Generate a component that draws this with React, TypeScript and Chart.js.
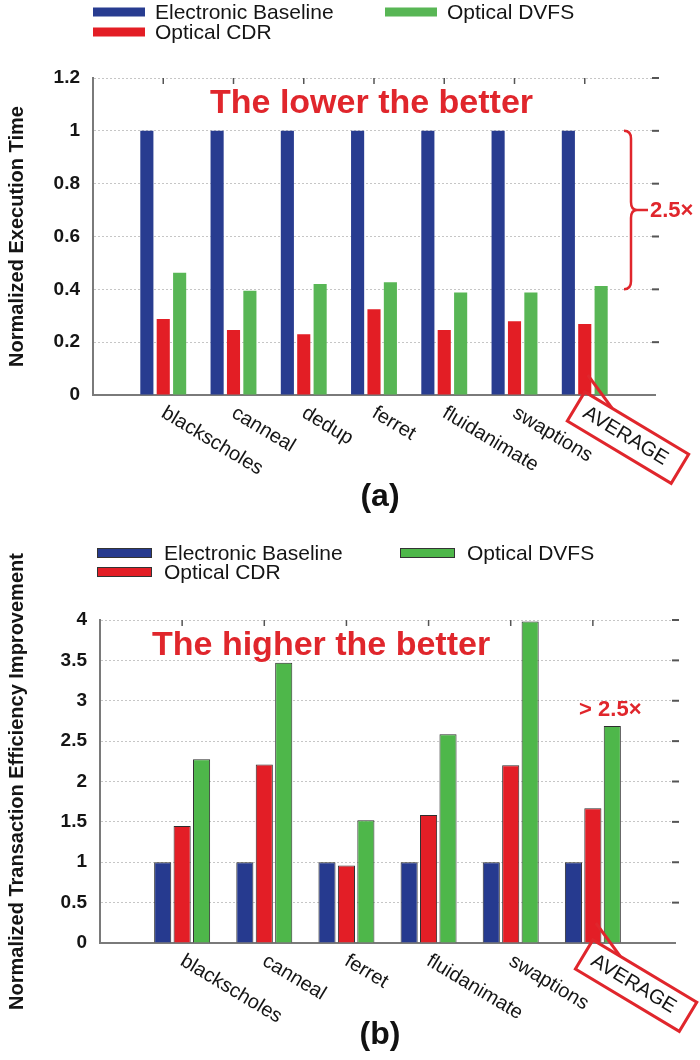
import React, { useEffect, useRef } from 'react';
import { Chart, registerables } from 'chart.js';

Chart.register(...registerables);

const FONT = '"Liberation Sans", Arial, Helvetica, sans-serif';
const RED_NOTE = '#e0262c';

// ---------- data ----------
const SERIES_NAMES = ['Electronic Baseline', 'Optical CDR', 'Optical DVFS'];
const COLORS_A = ['#283c90', '#e31e25', '#58b655'];
const COLORS_B = ['#263a8f', '#e31e26', '#4eb74a'];

const CATS_A = ['blackscholes', 'canneal', 'dedup', 'ferret', 'fluidanimate', 'swaptions', 'AVERAGE'];
const BASE_A = [1, 1, 1, 1, 1, 1, 1];
const CDR_A = [0.288, 0.246, 0.23, 0.325, 0.246, 0.279, 0.269];
const DVFS_A = [0.463, 0.395, 0.42, 0.427, 0.388, 0.388, 0.413];
const Y_A = { min: 0, max: 1.2, step: 0.2 };

const CATS_B = ['blackscholes', 'canneal', 'ferret', 'fluidanimate', 'swaptions', 'AVERAGE'];
const BASE_B = [1, 1, 1, 1, 1, 1];
const CDR_B = [1.45, 2.21, 0.96, 1.585, 2.2, 1.668];
const DVFS_B = [2.275, 3.47, 1.52, 2.585, 3.98, 2.687];
const Y_B = { min: 0, max: 4, step: 0.5 };

const W = 700;
const H = 530;
const ANGLE = (31 * Math.PI) / 180;

type Cfg = {
  cats: string[];
  series: number[][];
  colors: string[];
  y: { min: number; max: number; step: number };
  yTitle: string;
  area: { left: number; right: number; top: number; bottom: number };
  catPct: number;
  barPct: number;
  outline: boolean;
  legend: { idx: number; x: number; y: number }[];
  swatchW: number;
  legendDx: number;
  headline: { text: string; x: number; y: number };
  panel: { text: string; y: number };
  kind: 'brace' | 'above';
};

function rot(ax: number, ay: number, u: number, v: number) {
  return {
    x: ax + u * Math.cos(ANGLE) - v * Math.sin(ANGLE),
    y: ay + u * Math.sin(ANGLE) + v * Math.cos(ANGLE),
  };
}

function makeDecor(cfg: Cfg) {
  return {
    id: 'decor',
    afterDraw(chart: any) {
      const ctx: CanvasRenderingContext2D = chart.ctx;
      const xs = chart.scales.x;
      const ys = chart.scales.y;
      const area = chart.chartArea;
      ctx.save();

      // legend
      cfg.legend.forEach(({ idx, x, y }) => {
        ctx.fillStyle = cfg.colors[idx];
        ctx.fillRect(x, y - 4.5, cfg.swatchW, 9);
        if (cfg.outline) {
          ctx.strokeStyle = '#333';
          ctx.lineWidth = 1;
          ctx.strokeRect(x + 0.5, y - 4.5, cfg.swatchW - 1, 9);
        }
        ctx.fillStyle = '#151515';
        ctx.font = `21px ${FONT}`;
        ctx.textAlign = 'left';
        ctx.textBaseline = 'middle';
        ctx.fillText(SERIES_NAMES[idx], x + cfg.legendDx, y + 1);
      });

      // top tick marks at category centers
      ctx.strokeStyle = '#555';
      ctx.lineWidth = 1.5;
      cfg.cats.forEach((_, i) => {
        const px = xs.getPixelForValue(i + 1);
        ctx.beginPath();
        ctx.moveTo(px, area.top);
        ctx.lineTo(px, area.top + 6);
        ctx.stroke();
      });
      // right tick marks
      ctx.lineWidth = 2;
      ys.ticks.forEach((t: any) => {
        if (t.value === cfg.y.min) return;
        const py = ys.getPixelForValue(t.value);
        ctx.beginPath();
        ctx.moveTo(area.right - 3, py);
        ctx.lineTo(area.right + 4, py);
        ctx.stroke();
      });

      // rotated category labels
      const n = cfg.cats.length;
      let boxAnchor = { x: 0, y: 0 };
      cfg.cats.forEach((c, i) => {
        const px = xs.getPixelForValue(i + 1);
        const ax = px + 5;
        const ay = area.bottom + 8;
        ctx.save();
        ctx.translate(ax, ay);
        ctx.rotate(ANGLE);
        ctx.font = `20px ${FONT}`;
        ctx.fillStyle = '#151515';
        ctx.textAlign = 'left';
        ctx.textBaseline = 'top';
        ctx.fillText(c, 0, 0);
        if (i === n - 1) {
          const w = ctx.measureText(c).width;
          ctx.strokeStyle = RED_NOTE;
          ctx.lineWidth = 3;
          ctx.strokeRect(-10, -7, w + 26, 34);
          boxAnchor = { x: ax, y: ay };
        }
        ctx.restore();
      });

      // connector from CDR average bar to box
      const cdrMeta = chart.getDatasetMeta(1);
      const bar = cdrMeta.data[n];
      const end = rot(boxAnchor.x, boxAnchor.y, 22, -7);
      ctx.strokeStyle = RED_NOTE;
      ctx.lineWidth = 3;
      ctx.beginPath();
      ctx.moveTo(bar.x + 3, area.bottom - 20);
      ctx.lineTo(end.x, end.y);
      ctx.stroke();

      // headline
      ctx.fillStyle = RED_NOTE;
      ctx.font = `bold 34px ${FONT}`;
      ctx.textAlign = 'left';
      ctx.textBaseline = 'alphabetic';
      ctx.fillText(cfg.headline.text, cfg.headline.x, cfg.headline.y);

      if (cfg.kind === 'brace') {
        const y1 = ys.getPixelForValue(1);
        const y2 = ys.getPixelForValue(0.4);
        const ym = (y1 + y2) / 2;
        const bx = area.right - 24;
        const r = 8;
        ctx.strokeStyle = RED_NOTE;
        ctx.lineWidth = 2.5;
        ctx.beginPath();
        ctx.moveTo(bx - 7, y1);
        ctx.quadraticCurveTo(bx, y1, bx, y1 + r);
        ctx.lineTo(bx, ym - r);
        ctx.quadraticCurveTo(bx, ym, bx + 6, ym);
        ctx.quadraticCurveTo(bx, ym, bx, ym + r);
        ctx.lineTo(bx, y2 - r);
        ctx.quadraticCurveTo(bx, y2, bx - 7, y2);
        ctx.moveTo(bx + 6, ym);
        ctx.lineTo(bx + 17, ym);
        ctx.stroke();
        ctx.fillStyle = RED_NOTE;
        ctx.font = `bold 22px ${FONT}`;
        ctx.textBaseline = 'middle';
        ctx.fillText('2.5\u00d7', bx + 19, ym + 1);
      } else {
        const dv = chart.getDatasetMeta(2).data[n];
        ctx.fillStyle = RED_NOTE;
        ctx.font = `bold 22px ${FONT}`;
        ctx.textAlign = 'center';
        ctx.textBaseline = 'middle';
        ctx.fillText('> 2.5\u00d7', dv.x - 2, dv.y - 16);
      }

      // panel label
      ctx.fillStyle = '#111';
      ctx.font = `bold 32px ${FONT}`;
      ctx.textAlign = 'center';
      ctx.textBaseline = 'middle';
      ctx.fillText(cfg.panel.text, 380, cfg.panel.y);

      ctx.restore();
    },
  };
}

function buildChart(canvas: HTMLCanvasElement, cfg: Cfg) {
  const labels = ['', ...cfg.cats, ''];
  const pad = (a: number[]) => [null, ...a, null];
  return new Chart(canvas, {
    type: 'bar',
    data: {
      labels,
      datasets: cfg.series.map((vals, i) => ({
        label: SERIES_NAMES[i],
        data: pad(vals) as any,
        backgroundColor: cfg.colors[i],
        borderColor: cfg.outline ? '#2d2d2d' : cfg.colors[i],
        borderWidth: cfg.outline ? 1 : 0,
        categoryPercentage: cfg.catPct,
        barPercentage: cfg.barPct,
      })),
    },
    options: {
      animation: false,
      responsive: false,
      maintainAspectRatio: false,
      layout: { padding: { top: cfg.area.top, right: W - cfg.area.right, left: 0, bottom: 0 } },
      plugins: { legend: { display: false }, tooltip: { enabled: false } },
      scales: {
        x: {
          type: 'category',
          offset: false,
          grid: { display: false },
          border: { display: true, color: '#7a7a7a', width: 2 },
          ticks: { display: false },
          afterFit: (s: any) => {
            s.height = H - cfg.area.bottom;
          },
        },
        y: {
          min: cfg.y.min,
          max: cfg.y.max,
          ticks: {
            stepSize: cfg.y.step,
            padding: 13,
            color: '#151515',
            font: { family: FONT, size: 19, weight: 'bold' },
            callback: (v: any) => String(Number(Number(v).toFixed(2))),
          },
          grid: { color: '#c6c6c6', drawTicks: false, lineWidth: 1 },
          border: { display: true, color: '#7a7a7a', width: 2, dash: [2, 2] },
          title: {
            display: true,
            text: cfg.yTitle,
            color: '#151515',
            font: { family: FONT, size: 20, weight: 'bold' },
            padding: { top: 5, bottom: 0 },
          },
          afterFit: (s: any) => {
            s.width = cfg.area.left;
          },
        },
      },
    } as any,
    plugins: [makeDecor(cfg) as any],
  });
}

const CFG_A: Cfg = {
  cats: CATS_A,
  series: [BASE_A, CDR_A, DVFS_A],
  colors: COLORS_A,
  y: Y_A,
  yTitle: 'Normalized Execution Time',
  area: { left: 93, right: 655, top: 78, bottom: 395 },
  catPct: 0.7,
  barPct: 0.8,
  outline: false,
  legend: [
    { idx: 0, x: 93, y: 12 },
    { idx: 1, x: 93, y: 32 },
    { idx: 2, x: 385, y: 12 },
  ],
  swatchW: 52,
  legendDx: 62,
  headline: { text: 'The lower the better', x: 210, y: 113 },
  panel: { text: '(a)', y: 497 },
  kind: 'brace',
};

const CFG_B: Cfg = {
  cats: CATS_B,
  series: [BASE_B, CDR_B, DVFS_B],
  colors: COLORS_B,
  y: Y_B,
  yTitle: 'Normalized Transaction Efficiency Improvement',
  area: { left: 100, right: 675, top: 90, bottom: 413 },
  catPct: 0.71,
  barPct: 0.88,
  outline: true,
  legend: [
    { idx: 0, x: 97, y: 23 },
    { idx: 1, x: 97, y: 42 },
    { idx: 2, x: 400, y: 23 },
  ],
  swatchW: 55,
  legendDx: 67,
  headline: { text: 'The higher the better', x: 152, y: 125 },
  panel: { text: '(b)', y: 505 },
  kind: 'above',
};

function Panel({ cfg, top }: { cfg: Cfg; top: number }) {
  const ref = useRef<HTMLCanvasElement>(null);
  useEffect(() => {
    if (!ref.current) return;
    const chart = buildChart(ref.current, cfg);
    return () => chart.destroy();
  }, [cfg]);
  return (
    <canvas
      ref={ref}
      width={W}
      height={H}
      style={{ position: 'absolute', left: 0, top, width: W, height: H, display: 'block' }}
    />
  );
}

export default function App() {
  return (
    <div style={{ position: 'absolute', left: 0, top: 0, width: W, height: 1060, background: '#fff' }}>
      <Panel cfg={CFG_A} top={0} />
      <Panel cfg={CFG_B} top={530} />
    </div>
  );
}
